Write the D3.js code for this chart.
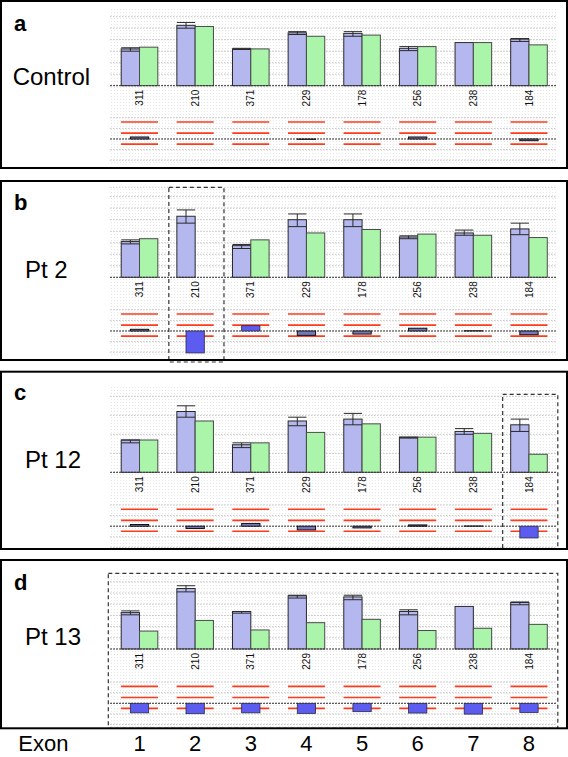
<!DOCTYPE html>
<html><head><meta charset="utf-8">
<script src="https://cdn.jsdelivr.net/npm/d3@7"></script>
<style>
body{margin:0;background:#fff}
svg{display:block}
text{font-family:"Liberation Sans",Arial,Helvetica,sans-serif}
</style>
</head><body>
<svg id="chart" width="568" height="757"></svg>
<script>
// ---------- data ----------
const fragments = ["311","210","371","229","178","256","238","184"];
const exons = ["1","2","3","4","5","6","7","8"];
const panelLetters = ["a","b","c","d"];
const sampleNames = ["Control","Pt 2","Pt 12","Pt 13"];
const gridTicks = [0.2,0.4,0.6,0.8,1.0,1.2,1.4];
const ratioTicks = [-2,-1,1,2];
const ratioThresholds = [1.6,0.55,-0.48];

// blue bars: mean, lower error, upper error ; green bars ; ratio (lower section)
const controlMean  = [0.64,1.05,0.64,0.92,0.91,0.65,0.75,0.81];
const controlLow   = [0.60,1.00,0.63,0.89,0.86,0.61,0.75,0.77];
const controlHigh  = [0.66,1.10,0.65,0.94,0.94,0.68,0.75,0.82];
const controlGreen = [0.67,1.03,0.64,0.86,0.88,0.68,0.75,0.71];
const controlRatio = [0.19,0,0,-0.03,0,0.19,0,-0.16];

const pt2Mean  = [0.62,1.06,0.55,1.00,1.00,0.70,0.77,0.84];
const pt2Low   = [0.58,0.94,0.50,0.88,0.88,0.67,0.73,0.74];
const pt2High  = [0.65,1.17,0.57,1.10,1.10,0.72,0.82,0.94];
const pt2Green = [0.67,null,0.65,0.77,0.83,0.75,0.73,0.69];
const pt2Ratio = [0.16,-2.07,0.50,-0.41,-0.29,0.26,0.02,-0.35];

const pt12Mean  = [0.34,0.64,0.29,0.54,0.56,0.37,0.43,0.50];
const pt12Low   = [0.31,0.58,0.26,0.49,0.50,0.36,0.40,0.43];
const pt12High  = [0.34,0.70,0.31,0.58,0.62,0.37,0.46,0.56];
const pt12Green = [0.34,0.54,0.31,0.42,0.51,0.37,0.41,0.19];
const pt12Ratio = [0.16,-0.22,0.26,-0.35,-0.16,0.12,0.02,-1.11];

const pt13Mean  = [0.65,1.08,0.67,0.95,0.93,0.67,0.76,0.83];
const pt13Low   = [0.61,1.02,0.64,0.91,0.88,0.61,0.76,0.79];
const pt13High  = [0.68,1.13,0.67,0.96,0.96,0.70,0.76,0.84];
const pt13Green = [0.32,0.51,0.34,0.47,0.53,0.33,0.37,0.44];
const pt13Ratio = [-0.90,-0.98,-0.90,-0.95,-0.79,-0.92,-1.02,-0.86];

const highlightFrom = [null,1,7,0];
const highlightTo   = [null,1,7,7];

// ---------- layout ----------
const layout = [
  {top:1,   bottom:168,   base:85.7,  ppu:57.5, plotTop:7,     lowBase:139,   boxTop:null,  boxBottom:null, nameX:12.7, nameY:85,    letterY:31,  topLine:false},
  {top:181, bottom:360,   base:277.3, ppu:57.6, plotTop:187.3, lowBase:331,   boxTop:187.3, boxBottom:362,  nameX:25,   nameY:278.3, letterY:210, topLine:true},
  {top:371.7,bottom:549,  base:472.3, ppu:95,   plotTop:385,   lowBase:526.2, boxTop:394.3, boxBottom:549,  nameX:25,   nameY:468.3, letterY:400, topLine:false},
  {top:560, bottom:728.3, base:649,   ppu:56,   plotTop:573.3, lowBase:703.3, boxTop:573.3, boxBottom:728.3,nameX:25,   nameY:645,   letterY:590, topLine:false}
];
const series = [
  [controlMean,controlLow,controlHigh,controlGreen,controlRatio],
  [pt2Mean,pt2Low,pt2High,pt2Green,pt2Ratio],
  [pt12Mean,pt12Low,pt12High,pt12Green,pt12Ratio],
  [pt13Mean,pt13Low,pt13High,pt13Green,pt13Ratio]
];

const svg = d3.select("#chart");
const defs = svg.append("defs");
const pat = defs.append("pattern").attr("id","dots").attr("width",3).attr("height",3).attr("patternUnits","userSpaceOnUse");
pat.append("rect").attr("width",1).attr("height",1).attr("fill","#e6e6e6");

const x = d3.scaleBand().domain(d3.range(fragments.length)).range([111.7,556.8]).padding(0);
const bw = 18.3;
const cx = i => x(i) + x.bandwidth()/2;
const gridX0 = 110, gridX1 = 557;

const BLUE = "#b4b8ef", GREEN = "#aaf5aa", BRIGHT = "#5c5cf0", SMALL = "#7478bc", RED = "#ff3b1c";
const ppuLow = 10.6;

layout.forEach((L, p) => {
  const [mean, low, high, green, ratio] = series[p];
  const y = d3.scaleLinear().domain([0,1]).range([L.base, L.base - L.ppu]);
  const yl = d3.scaleLinear().domain([0,1]).range([L.lowBase, L.lowBase - ppuLow]);
  const g = svg.append("g");

  // textured plot background
  g.append("rect").attr("x",gridX0).attr("y",L.plotTop)
    .attr("width",gridX1-gridX0).attr("height",yl(-2.4)-L.plotTop).attr("fill","url(#dots)");

  // upper gridlines
  const ticks = gridTicks.filter(t => y(t) >= L.plotTop - 0.5);
  g.selectAll(".gu").data(ticks).enter().append("line")
    .attr("x1",gridX0).attr("x2",gridX1).attr("y1",d=>y(d)).attr("y2",d=>y(d))
    .attr("stroke","#c4c4c4").attr("stroke-width",1).attr("stroke-dasharray","1.5,1.5");
  if (L.topLine) g.append("line").attr("x1",gridX0).attr("x2",gridX1).attr("y1",L.plotTop).attr("y2",L.plotTop)
    .attr("stroke","#d0d0d0").attr("stroke-dasharray","1.5,1.5");

  // lower gridlines
  g.selectAll(".gl").data(ratioTicks).enter().append("line")
    .attr("x1",gridX0).attr("x2",gridX1).attr("y1",d=>yl(d)).attr("y2",d=>yl(d))
    .attr("stroke","#c4c4c4").attr("stroke-width",1).attr("stroke-dasharray","1.5,1.5");

  // blue bars
  g.selectAll(".bb").data(mean).enter().append("rect")
    .attr("x",(d,i)=>cx(i)-bw).attr("y",d=>y(d)).attr("width",bw).attr("height",d=>L.base-y(d))
    .attr("fill",BLUE).attr("stroke","#2a2a2a").attr("stroke-width",1);
  // green bars
  const greenData = green.map((v,i)=>({v,i})).filter(d=>d.v!=null);
  g.selectAll(".gb").data(greenData).enter().append("rect")
    .attr("x",d=>cx(d.i))
    .attr("y",d=>y(d.v)).attr("width",bw).attr("height",d=>L.base-y(d.v))
    .attr("fill",GREEN).attr("stroke","#4a4a4a").attr("stroke-width",1);
  // error bars
  mean.forEach((m,i) => {
    const lo = low[i], hi = high[i];
    if (hi - lo <= 0) return;
    const x0 = cx(i)-bw, x1 = cx(i), xm = cx(i)-bw/2;
    g.append("line").attr("x1",x0).attr("x2",x1).attr("y1",y(lo)).attr("y2",y(lo)).attr("stroke","#2a2a2a");
    g.append("line").attr("x1",xm).attr("x2",xm).attr("y1",y(lo)).attr("y2",y(hi)).attr("stroke","#2a2a2a");
    g.append("line").attr("x1",x0).attr("x2",x1).attr("y1",y(hi)).attr("y2",y(hi)).attr("stroke","#2a2a2a");
  });

  // upper baseline
  g.append("line").attr("x1",gridX0).attr("x2",gridX1).attr("y1",L.base).attr("y2",L.base)
    .attr("stroke","#333").attr("stroke-width",1).attr("stroke-dasharray","2,1");

  // fragment labels
  g.selectAll(".fl").data(fragments).enter().append("text")
    .attr("transform",(d,i)=>`translate(${cx(i)+3.6},${L.base+4}) rotate(-90)`)
    .attr("text-anchor","end").attr("font-size",10).attr("fill","#111").text(d=>d);

  // red threshold lines
  fragments.forEach((f,i) => {
    g.selectAll(null).data(ratioThresholds).enter().append("line")
      .attr("x1",cx(i)-18.5).attr("x2",cx(i)+18.5).attr("y1",d=>yl(d)).attr("y2",d=>yl(d))
      .attr("stroke",RED).attr("stroke-width",1.6);
  });

  // lower baseline
  g.append("line").attr("x1",gridX0).attr("x2",gridX1).attr("y1",L.lowBase).attr("y2",L.lowBase)
    .attr("stroke","#333").attr("stroke-width",1).attr("stroke-dasharray","2,1");

  // ratio bars
  ratio.forEach((v,i) => {
    if (v === 0) return;
    const big = Math.abs(v) >= 0.45;
    g.append("rect").attr("x",cx(i)-bw/2).attr("width",bw)
      .attr("y",Math.min(yl(v),yl(0))).attr("height",Math.abs(yl(v)-yl(0)))
      .attr("fill", big ? BRIGHT : SMALL).attr("stroke",big?"#2a2a40":"#111").attr("stroke-width",big?0.8:1);
  });

  // highlight box
  if (highlightFrom[p] != null) {
    const a = highlightFrom[p], b = highlightTo[p];
    const x0 = a===b ? x(a)+1.5 : x(a)-3.4;
    const x1 = x(b)+x.bandwidth()+1;
    g.append("rect").attr("x",x0).attr("y",L.boxTop).attr("width",x1-x0).attr("height",L.boxBottom-L.boxTop)
      .attr("fill","none").attr("stroke","#333").attr("stroke-width",1.2).attr("stroke-dasharray","4,3");
  }

  // panel frame
  svg.append("rect").attr("x",1).attr("y",L.top).attr("width",566).attr("height",L.bottom-L.top)
    .attr("fill","none").attr("stroke","#000").attr("stroke-width",2);

  // letter and name
  svg.append("text").attr("x",14).attr("y",L.letterY).attr("font-size",22).attr("font-weight","bold").text(panelLetters[p]);
  svg.append("text").attr("x",L.nameX).attr("y",L.nameY).attr("font-size",24).text(sampleNames[p]);
});

// exon axis
svg.append("text").attr("x",18.3).attr("y",751).attr("font-size",22).text("Exon");
svg.selectAll(".ex").data(exons).enter().append("text")
  .attr("x",(d,i)=>cx(i)).attr("y",751).attr("text-anchor","middle").attr("font-size",22).text(d=>d);
</script>
</body></html>
